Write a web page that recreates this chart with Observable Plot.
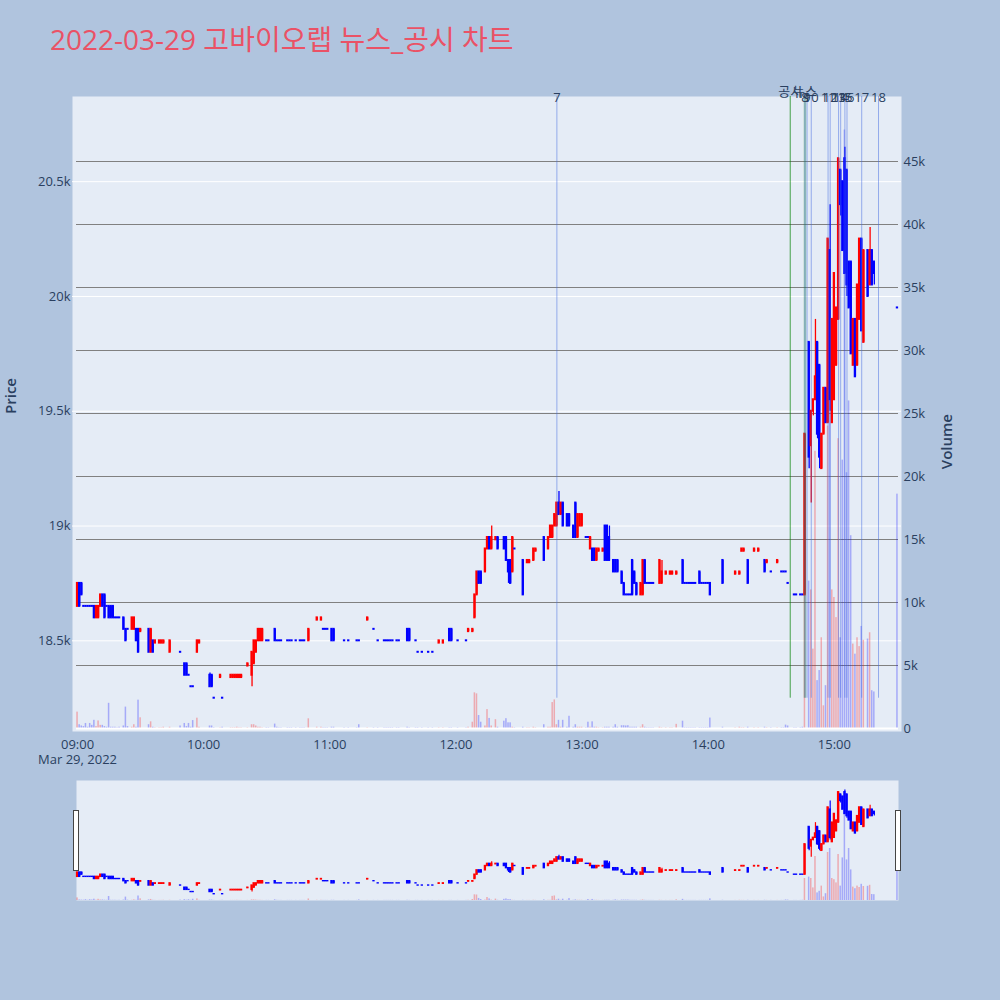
<!DOCTYPE html>
<html><head><meta charset="utf-8">
<script src="https://cdn.jsdelivr.net/npm/d3@7"></script>
<script src="https://cdn.jsdelivr.net/npm/@observablehq/plot@0.6"></script>
<style>
html,body{margin:0;padding:0;background:#b0c4de;}
#root{position:relative;width:1000px;height:1000px;background:#b0c4de;overflow:hidden;font-family:"Open Sans","Noto Sans CJK KR",sans-serif;}
.layer{position:absolute;left:0;}
#title{position:absolute;left:50px;top:25px;font-size:28px;line-height:28px;color:#ea5266;white-space:nowrap;}
.handle{position:absolute;width:4px;height:59px;background:#fff;border:1px solid #444;}
</style></head>
<body><div id="root"><div id="title">2022-03-29 고바이오랩 뉴스_공시 차트</div></div>
<script>
// [time, open, high, low, close, volume]
const h09 = [
["09:00",18650,18750,18650,18750,1300],["09:01",18750,18750,18650,18650,300],["09:02",18750,18750,18700,18700,200],
["09:03",18650,18650,18650,18650,150],["09:04",18650,18650,18650,18650,400],["09:05",18650,18650,18650,18650,100],
["09:06",18650,18650,18650,18650,400],["09:07",18650,18650,18650,18650,250],["09:08",18650,18650,18600,18600,650],
["09:09",18600,18650,18600,18650,150],["09:10",18600,18650,18600,18650,600],["09:11",18650,18700,18650,18700,250],
["09:12",18700,18700,18650,18650,250],["09:13",18700,18700,18600,18600,150],["09:14",18650,18650,18650,18650,100],
["09:15",18650,18650,18600,18600,2000],["09:16",18650,18650,18600,18600,100],["09:17",18650,18650,18600,18600,100],
["09:18",18600,18600,18600,18600,100],["09:19",18600,18600,18600,18600,50],["09:20",18600,18600,18600,18600,100],
["09:22",18600,18600,18550,18550,200],["09:23",18550,18550,18500,18500,1700],["09:24",18550,18550,18550,18550,150],
["09:26",18550,18600,18550,18600,100],["09:27",18550,18600,18550,18600,300],["09:28",18550,18550,18500,18500,100],
["09:29",18550,18550,18450,18450,2250],["09:30",18540,18550,18540,18550,850],["09:34",18550,18550,18450,18450,300],
["09:35",18450,18550,18450,18550,530],["09:36",18500,18500,18450,18450,100],["09:37",18490,18500,18490,18500,50],
["09:39",18490,18500,18490,18500,50],["09:40",18490,18500,18490,18500,50],["09:41",18490,18500,18490,18500,100],
["09:44",18450,18500,18450,18500,100],["09:49",18450,18450,18450,18450,200],["09:51",18400,18400,18350,18350,400],
["09:52",18400,18400,18350,18350,150],["09:53",18350,18350,18350,18350,400],["09:54",18300,18300,18300,18300,100],
["09:55",18300,18300,18300,18300,630],["09:57",18450,18500,18450,18500,820],["09:58",18490,18500,18490,18500,100]
];
const h10 = [
["10:03",18350,18360,18300,18300,200],["10:04",18350,18350,18300,18300,200],["10:05",18250,18250,18250,18250,50],
["10:08",18340,18350,18340,18350,50],["10:09",18250,18250,18250,18250,100],["10:13",18340,18350,18340,18350,50],
["10:14",18340,18350,18340,18350,50],["10:15",18340,18350,18340,18350,50],["10:16",18340,18350,18340,18350,100],
["10:17",18340,18350,18340,18350,50],["10:18",18340,18350,18340,18350,50],["10:21",18390,18400,18390,18400,50],
["10:23",18350,18450,18300,18450,300],["10:24",18400,18500,18400,18500,300],["10:25",18450,18500,18450,18500,200],
["10:26",18500,18550,18500,18550,100],["10:27",18500,18550,18500,18550,100],["10:28",18500,18550,18500,18550,50],
["10:30",18500,18500,18500,18500,50],["10:31",18500,18500,18500,18500,50],["10:34",18550,18550,18500,18500,350],
["10:35",18500,18500,18500,18500,100],["10:36",18500,18500,18500,18500,50],["10:37",18500,18500,18500,18500,50],
["10:40",18500,18500,18500,18500,50],["10:41",18500,18500,18500,18500,50],["10:42",18500,18500,18500,18500,50],
["10:44",18500,18500,18500,18500,50],["10:46",18500,18500,18500,18500,50],["10:47",18500,18500,18500,18500,50],
["10:48",18500,18500,18500,18500,50],["10:50",18500,18550,18500,18550,770],["10:54",18590,18600,18590,18600,100],
["10:56",18590,18600,18590,18600,100],["10:57",18550,18550,18550,18550,50],["10:58",18550,18550,18550,18550,50],
["10:59",18550,18550,18550,18550,50]
];
const h11 = [
["11:01",18550,18550,18500,18500,100],["11:02",18550,18550,18500,18500,100],["11:07",18500,18500,18500,18500,50],
["11:09",18500,18500,18500,18500,50],["11:13",18500,18500,18500,18500,50],["11:14",18500,18500,18500,18500,300],
["11:18",18590,18600,18590,18600,50],["11:21",18550,18550,18550,18550,50],["11:23",18500,18500,18500,18500,50],
["11:26",18500,18500,18500,18500,50],["11:27",18500,18500,18500,18500,50],["11:28",18500,18500,18500,18500,50],
["11:29",18500,18500,18500,18500,50],["11:30",18500,18500,18500,18500,50],["11:32",18500,18500,18500,18500,50],
["11:33",18500,18500,18500,18500,50],["11:37",18550,18550,18500,18500,100],["11:38",18550,18550,18500,18500,50],
["11:41",18500,18500,18500,18500,50],["11:42",18450,18450,18450,18450,50],["11:44",18450,18450,18450,18450,50],
["11:47",18450,18450,18450,18450,50],["11:49",18450,18450,18450,18450,50],["11:52",18490,18500,18490,18500,50],
["11:54",18490,18500,18490,18500,50],["11:57",18550,18550,18500,18500,50],["11:58",18550,18550,18500,18500,50]
];
const h12 = [
["12:01",18500,18500,18500,18500,50],["12:05",18500,18500,18500,18500,50],["12:06",18540,18550,18540,18550,100],
["12:08",18540,18550,18540,18550,500],["12:09",18600,18700,18600,18700,2830],["12:10",18700,18800,18700,18800,2750],
["12:11",18800,18800,18750,18750,1030],["12:12",18800,18800,18750,18750,500],["12:14",18800,18900,18800,18900,200],
["12:15",18900,18950,18900,18950,1500],["12:16",18950,18950,18900,18900,800],["12:17",18900,19000,18900,18950,200],
["12:19",18940,18950,18940,18950,700],["12:20",18950,18950,18900,18900,100],["12:23",18950,18950,18900,18900,580],
["12:24",18950,18950,18850,18850,780],["12:25",18850,18850,18750,18800,450],["12:26",18850,18850,18750,18750,450],
["12:27",18800,18950,18800,18950,100],["12:28",18900,18900,18900,18900,50],["12:32",18850,18850,18700,18700,100],
["12:34",18840,18850,18840,18850,50],["12:35",18840,18850,18840,18850,50],["12:37",18850,18900,18850,18900,100],
["12:38",18890,18900,18890,18900,50],["12:42",18950,18950,18850,18850,300],["12:44",18900,18950,18900,18950,100],
["12:45",18950,19000,18950,19000,100],["12:46",18950,19000,18950,19000,2060],["12:47",19000,19050,19000,19050,2270],
["12:48",19000,19100,19000,19100,300],["12:49",19100,19150,19050,19050,650],["12:50",19050,19100,19050,19100,100],
["12:51",19100,19100,19000,19000,650],["12:53",19050,19050,19000,19000,100],["12:54",19050,19050,19000,19000,970],
["12:56",19000,19000,18950,18950,100],["12:57",19100,19100,18950,18950,300],["12:58",18950,19050,18950,19050,100],
["12:59",19000,19050,19000,19050,100]
];
const h13 = [
["13:00",19000,19050,19000,19050,100],["13:02",18950,18950,18950,18950,50],["13:03",18950,18950,18950,18950,500],
["13:04",18900,18950,18900,18950,100],["13:05",18900,18900,18850,18850,530],["13:06",18900,18900,18850,18850,100],
["13:07",18850,18900,18850,18900,100],["13:08",18890,18900,18890,18900,50],["13:10",18890,18900,18890,18900,50],
["13:11",19000,19000,18850,18850,100],["13:12",19000,19000,18850,18850,100],["13:13",18950,19000,18850,18850,100],
["13:15",18850,18850,18800,18800,100],["13:16",18850,18850,18800,18800,300],["13:17",18850,18850,18800,18800,100],
["13:19",18800,18800,18750,18750,220],["13:20",18750,18750,18700,18700,220],["13:21",18700,18700,18700,18700,200],
["13:22",18700,18700,18700,18700,220],["13:23",18700,18700,18700,18700,100],["13:24",18850,18850,18700,18700,100],
["13:25",18800,18800,18750,18750,100],["13:26",18750,18750,18700,18700,100],["13:28",18700,18750,18700,18750,100],
["13:29",18700,18850,18700,18850,300],["13:30",18850,18850,18750,18750,100],["13:31",18750,18750,18750,18750,50],
["13:32",18750,18750,18750,18750,50],["13:33",18750,18750,18750,18750,50],["13:34",18750,18750,18750,18750,50],
["13:37",18750,18850,18750,18850,100],["13:38",18750,18850,18750,18800,50],["13:40",18790,18800,18790,18800,50],
["13:42",18790,18800,18790,18800,50],["13:43",18790,18800,18790,18800,50],["13:45",18790,18800,18790,18800,330],
["13:48",18850,18850,18750,18750,580],["13:49",18750,18750,18750,18750,50],["13:50",18750,18750,18750,18750,50],
["13:51",18750,18750,18750,18750,50],["13:52",18750,18750,18750,18750,50],["13:53",18750,18750,18750,18750,50],
["13:54",18750,18750,18750,18750,50],["13:56",18800,18800,18750,18750,50],["13:57",18750,18750,18750,18750,50],
["13:58",18750,18750,18750,18750,50],["13:59",18750,18750,18750,18750,50]
];
const h14 = [
["14:00",18750,18750,18750,18750,50],["14:01",18750,18750,18700,18700,830],["14:07",18850,18850,18750,18750,100],
["14:13",18790,18800,18790,18800,50],["14:15",18790,18800,18790,18800,100],["14:16",18890,18900,18890,18900,50],
["14:17",18890,18900,18890,18900,50],["14:19",18850,18850,18750,18750,100],["14:22",18890,18900,18890,18900,50],
["14:24",18890,18900,18890,18900,50],["14:27",18850,18850,18800,18800,100],["14:28",18840,18850,18840,18850,50],
["14:30",18800,18800,18800,18800,50],["14:33",18840,18850,18840,18850,50],["14:35",18800,18800,18800,18800,50],
["14:36",18800,18800,18800,18800,50],["14:37",18800,18800,18800,18800,270],["14:38",18750,18750,18750,18750,200],
["14:41",18700,18700,18700,18700,50],["14:42",18700,18700,18700,18700,50],["14:44",18700,18700,18700,18700,50],
["14:45",18700,18700,18700,18700,100],["14:46",18700,19400,18700,19400,11000],["14:48",19800,19800,19250,19300,11700],
["14:49",19350,19500,19100,19500,11000],["14:50",19500,19550,19480,19550,6300],["14:51",19550,19900,19550,19650,22000],
["14:52",19800,19800,19380,19400,3800],["14:53",19700,19700,19250,19300,4600],["14:54",19250,19400,19250,19400,7200],
["14:55",19400,19600,19400,19600,1800],["14:56",19600,19600,19450,19450,3400],["14:57",19450,20250,19450,20250,24000],
["14:58",20200,20400,19500,19550,26000],["14:59",19450,19900,19450,19900,11000]
];
const h15 = [
["15:00",19550,20100,19550,20100,10400],["15:01",19700,19950,19700,19950,8800],["15:02",19900,20600,19900,20600,23000],
["15:03",20550,20550,20350,20400,7200],["15:04",20500,20500,20200,20200,21300],["15:05",20600,20650,20100,20100,47500],
["15:06",20550,20550,20000,20050,20300],["15:07",20150,20150,19950,19950,26000],["15:08",20150,20150,19750,19750,15300],
["15:09",19700,19900,19700,19900,6700],["15:10",19900,19900,19650,19650,5900],["15:11",19700,20050,19700,20050,7200],
["15:12",19900,20250,19900,20250,6500],["15:13",20250,20250,19850,19850,8100],["15:14",19800,20200,19800,20200,7000],
["15:16",20200,20200,20000,20000,7100],["15:17",20050,20300,20050,20200,7600],["15:18",20200,20200,20050,20050,3000],
["15:19",20150,20150,20050,20100,2900],["15:30",19950,19950,19950,19950,18600]
];
const newsTimes = ["12:48","14:46","14:47","14:49","14:57","14:58","15:02","15:03","15:05","15:06","15:13","15:21"];
const newsLabels = ["7","8","9","10","11","12","13","14","15","16","17","18"];
const disclosureTimes = ["14:39"];
const disclosureLabels = ["공시"];
const articleTimes = ["14:46"];
const articleLabels = ["뉴스"];
const xTickLabels = ["09:00","10:00","11:00","12:00","13:00","14:00","15:00"];
const priceTicks = [18500,19000,19500,20000,20500];
const volumeTicks = [0,5000,10000,15000,20000,25000,30000,35000,40000,45000];
const dateLabel = "Mar 29, 2022";

const parseT = s => { const [h, m] = s.split(":").map(Number); return new Date(2022, 2, 29, h, m); };
const rows = [...h09, ...h10, ...h11, ...h12, ...h13, ...h14, ...h15].map(([t, o, h, l, c, v]) => ({
  time: parseT(t), open: o, high: h, low: l, close: c, volume: v, dir: c > o ? "up" : "down"
}));
const MIN = 60000;
const xDomain = [new Date(+d3.min(rows, d => d.time) - 0.5 * MIN), new Date(+d3.max(rows, d => d.time) + 0.5 * MIN)];
const priceDomain = [18105, 20871];
const volumeDomain = [-238, 50159];
const minLow = d3.min(rows, d => d.low);
const colorScale = {domain: ["up", "down"], range: ["#ff0000", "#0000ff"]};
const FONT = '"Open Sans","Noto Sans CJK KR",sans-serif';
const TXT = "#2a3f5f";
const baseStyle = {background: "transparent", fontFamily: FONT, overflow: "visible", maxWidth: "none"};
const news = newsTimes.map((t, i) => ({time: parseT(t), label: newsLabels[i]}));
const disc = disclosureTimes.map((t, i) => ({time: parseT(t), label: disclosureLabels[i]}));
const arts = articleTimes.map((t, i) => ({time: parseT(t), label: articleLabels[i]}));
const hourTicks = xTickLabels.map(parseT);
const fmtHM = d3.timeFormat("%H:%M");

const root = document.getElementById("root");
function place(svg, top) { svg.classList.add("layer"); svg.style.top = top + "px"; root.appendChild(svg); }

// Layer A: background, price grid, price axis
place(Plot.plot({
  width: 1000, height: 760, marginLeft: 72, marginRight: 99, marginTop: 96, marginBottom: 29,
  y: {domain: priceDomain, axis: null, label: null},
  style: baseStyle,
  marks: [
    Plot.frame({fill: "#e5ecf6", stroke: null}),
    Plot.gridY(priceTicks, {stroke: "#ffffff", strokeOpacity: 1, strokeWidth: 1}),
    Plot.axisY(priceTicks, {anchor: "left", label: null, tickSize: 0, tickPadding: 2, tickFormat: d3.format("~s"), fontSize: 13, color: TXT}),
    Plot.text(["Price"], {frameAnchor: "left", dx: -61, rotate: -90, fontSize: 15, fontWeight: 600, fill: TXT})
  ]
}), 0);

// Layer B: volume
place(Plot.plot({
  width: 1000, height: 760, marginLeft: 76, marginRight: 102, marginTop: 96, marginBottom: 29,
  x: {type: "time", domain: xDomain, axis: null, label: null},
  y: {domain: volumeDomain, axis: null, label: null},
  color: colorScale,
  style: baseStyle,
  marks: [
    Plot.gridY(volumeTicks, {stroke: "#808080", strokeOpacity: 1, strokeWidth: 1}),
    Plot.rect(rows, {x1: d => new Date(+d.time - 0.36 * MIN), x2: d => new Date(+d.time + 0.36 * MIN), y1: 0, y2: "volume", fill: "dir", fillOpacity: 0.28}),
    Plot.ruleY([0], {stroke: "#ffffff", strokeWidth: 2}),
    Plot.axisY(volumeTicks, {anchor: "right", label: null, tickSize: 0, tickPadding: 5, tickFormat: d3.format("~s"), fontSize: 13, color: TXT}),
    Plot.text(["Volume"], {frameAnchor: "right", dx: 49, rotate: -90, fontSize: 15, fontWeight: 600, fill: TXT})
  ]
}), 0);

// Layer C: candles, event lines, x axis
place(Plot.plot({
  width: 1000, height: 760, marginLeft: 76, marginRight: 102, marginTop: 96, marginBottom: 29,
  x: {type: "time", domain: xDomain, axis: null, label: null},
  y: {domain: priceDomain, axis: null, label: null},
  color: colorScale,
  style: baseStyle,
  marks: [
    Plot.ruleX(rows, {x: "time", y1: "low", y2: "high", stroke: "dir", strokeWidth: 1.3}),
    Plot.rect(rows, {x1: d => new Date(+d.time - 0.55 * MIN), x2: d => new Date(+d.time + 0.55 * MIN), y1: "open", y2: "close", fill: "dir", insetTop: -1, insetBottom: -1}),
    Plot.ruleX(disc, {x: "time", y1: minLow, y2: priceDomain[1], stroke: "green", strokeOpacity: 0.7, strokeWidth: 1}),
    Plot.ruleX(arts, {x: "time", y1: minLow, y2: priceDomain[1], stroke: "green", strokeOpacity: 0.3, strokeWidth: 2.5}),
    Plot.ruleX(news, {x: "time", y1: minLow, y2: priceDomain[1], stroke: "royalblue", strokeOpacity: 0.5, strokeWidth: 1}),
    Plot.text(news, {x: "time", text: "label", frameAnchor: "top", lineAnchor: "middle", dy: 1, fontSize: 13, fill: TXT}),
    Plot.text([...disc, ...arts], {x: "time", text: "label", frameAnchor: "top", lineAnchor: "bottom", dy: -1, fontSize: 13, fill: TXT}),
    Plot.axisX(hourTicks, {anchor: "bottom", label: null, tickSize: 0, tickPadding: 6, fontSize: 13, color: TXT, lineHeight: 1.2,
      tickFormat: (d, i) => i === 0 ? fmtHM(d) + "\n" + dateLabel : fmtHM(d)})
  ]
}), 0);

// Range slider
place(Plot.plot({
  width: 1000, height: 120, marginLeft: 76, marginRight: 102, marginTop: 0, marginBottom: 0,
  x: {type: "time", domain: xDomain, axis: null, label: null},
  y: {domain: [0, 60000], axis: null, label: null},
  color: colorScale,
  style: baseStyle,
  marks: [
    Plot.frame({fill: "#e5ecf6", stroke: null}),
    Plot.rect(rows, {x1: d => new Date(+d.time - 0.36 * MIN), x2: d => new Date(+d.time + 0.36 * MIN), y1: 0, y2: "volume", fill: "dir", fillOpacity: 0.28})
  ]
}), 780);
place(Plot.plot({
  width: 1000, height: 120, marginLeft: 76, marginRight: 102, marginTop: 0, marginBottom: 0,
  x: {type: "time", domain: xDomain, axis: null, label: null},
  y: {domain: priceDomain, axis: null, label: null},
  color: colorScale,
  style: baseStyle,
  marks: [
    Plot.ruleX(rows, {x: "time", y1: "low", y2: "high", stroke: "dir", strokeWidth: 1.2}),
    Plot.rect(rows, {x1: d => new Date(+d.time - 0.55 * MIN), x2: d => new Date(+d.time + 0.55 * MIN), y1: "open", y2: "close", fill: "dir", insetTop: -0.7, insetBottom: -0.7})
  ]
}), 780);

for (const left of [73, 895]) {
  const h = document.createElement("div");
  h.className = "handle";
  h.style.left = left + "px";
  h.style.top = "810px";
  root.appendChild(h);
}
</script>
</body></html>
